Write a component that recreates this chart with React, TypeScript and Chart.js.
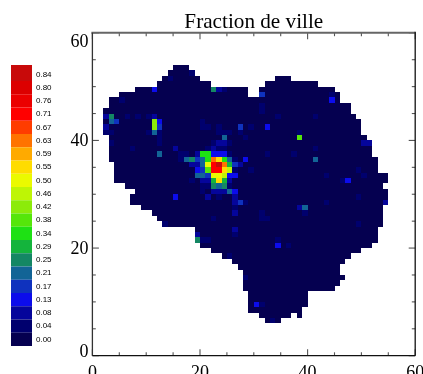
import React, { useEffect, useRef } from "react";
import { Chart, registerables } from "chart.js";

Chart.register(...registerables);

const TITLE = "Fraction de ville";

// Colour bar, bottom to top
const levelLabels = ["0.00","0.04","0.08","0.13","0.17","0.21","0.25","0.29","0.34","0.38","0.42","0.46","0.50","0.55","0.59","0.63","0.67","0.71","0.76","0.80","0.84"];
const levelColors = ["#050050","#00006e","#05059b","#0c0ceb","#0f32be","#126496","#148764","#14b43c","#1ee114","#55e60a","#8ceb0a","#bef505","#ebfa00","#ffdc00","#ffaa00","#ff7300","#ff3c00","#ff0000","#eb0000","#dc0000","#c80a0a"];

// Region outline as row runs: row, first column, end column (exclusive)
const runRow =   [53,52,51,51,50,50,49,49,48,48,47,46,45,44,43,42,41,40,39,38,37,36,35,34,33,32,31,30,29,28,27,26,25,24,23,22,21,20,19,18,17,16,15,14,13,12,11,10,9,8,7,7,6];
const runStart = [15,14,13,34,12,32,8,31,5,31,3,3,2,2,2,2,2,3,3,3,3,3,4,4,4,4,6,8,7,7,9,11,12,13,19,19,19,20,22,24,26,27,28,28,28,28,29,29,29,29,31,38,32];
const runEnd =   [18,19,20,37,22,42,29,45,29,46,46,48,48,49,50,50,50,51,52,52,52,53,53,53,55,55,54,55,55,55,54,54,54,54,53,53,53,52,50,48,47,46,46,47,46,45,40,40,40,39,37,39,35];

// Cells above the base level, one entry per row
const hotRow = [52,51,49,48,47,46,45,44,43,42,41,40,39,38,37,36,35,34,33,32,31,30,29,28,27,26,25,24,23,22,21,20,18,14,9,6];
const hotCols = [
  [18],[14],[11,22,23,24],[31,44],[5,44],[31],[31],
  [2,3,6,8,10,11,34,41],
  [3,4,11,12,20],
  [2,11,12,20,21,23,27,29,32],
  [2,3,10,11,12,23,24,25,27,38],
  [12,24,28,38],
  [3,12,22,23,24,25,50,51],
  [7,15,21,22,23,24,41],
  [12,16,17,19,20,21,22,23,24,25,32,37],
  [16,17,18,19,20,21,22,23,24,25,26,28,41],
  [18,19,20,21,22,23,24,25,26,27],
  [19,20,21,22,23,24,25,26,29,49],
  [19,20,21,22,23,24,25,26,43,50],
  [18,20,21,22,23,24,25,46,47],
  [20,21,22,23,24,25],
  [20,22,23,24,25,26],
  [15,21,23,26,49],
  [26,27,28,43,54],
  [26,38,39],
  [26,31,39],
  [22,31,32],
  [13,49],
  [26],
  [19,26],
  [19,20,21,34],
  [34,36],
  [25],[28],[30,31],[33],
];
const hotValues = [
  [0.04],[0.04],[0.13,0.25,0.08,0.04],[0.17,0.04],[0.04,0.13],[0.04],[0.04],
  [0.08,0.25,0.04,0.04,0.04,0.08,0.04,0.04],
  [0.21,0.17,0.42,0.13,0.04],
  [0.08,0.42,0.17,0.04,0.04,0.04,0.17,0.04,0.13],
  [0.04,0.04,0.04,0.21,0.04,0.04,0.04,0.04,0.04,0.04],
  [0.04,0.21,0.04,0.38],
  [0.04,0.04,0.04,0.08,0.08,0.04,0.08,0.08],
  [0.04,0.08,0.04,0.08,0.04,0.04,0.04],
  [0.21,0.04,0.04,0.08,0.34,0.34,0.13,0.13,0.13,0.04,0.04,0.04],
  [0.04,0.21,0.25,0.17,0.21,0.34,0.63,0.55,0.34,0.21,0.04,0.13,0.21],
  [0.08,0.08,0.21,0.50,0.71,0.84,0.63,0.29,0.17,0.08],
  [0.13,0.17,0.38,0.71,0.71,0.55,0.46,0.04,0.04,0.04],
  [0.21,0.21,0.17,0.50,0.50,0.46,0.13,0.13,0.04,0.04],
  [0.04,0.08,0.08,0.29,0.55,0.29,0.08,0.04,0.13],
  [0.04,0.04,0.25,0.21,0.25,0.04],
  [0.04,0.08,0.08,0.08,0.21,0.13],
  [0.13,0.08,0.04,0.08,0.04],
  [0.08,0.17,0.04,0.04,0.08],
  [0.04,0.08,0.21],
  [0.08,0.04,0.04],
  [0.04,0.04,0.04],
  [0.04,0.04],
  [0.08],
  [0.08,0.04],
  [0.25,0.04,0.04,0.04],
  [0.13,0.04],
  [0.04],[0.04],[0.13,0.04],[0.04],
];

// Axis ticks
const majorTicks = [0, 20, 40, 60];
const minorTicks = [5, 10, 15, 25, 30, 35, 45, 50, 55];

const SERIF = "'Liberation Serif', 'Times New Roman', serif";
const SANS = "'Liberation Sans', Arial, sans-serif";
const CELL_RADIUS = 5.38 * Math.SQRT1_2;

const colorForValue = (v: number) => {
  const i = levelLabels.indexOf(v.toFixed(2));
  return levelColors[i < 0 ? 0 : i];
};

const basePoints: { x: number; y: number }[] = [];
runRow.forEach((row, i) => {
  for (let c = runStart[i]; c < runEnd[i]; c++) basePoints.push({ x: c + 0.5, y: row + 0.5 });
});
const cellPoints: { x: number; y: number }[] = [];
const cellColors: string[] = [];
hotRow.forEach((row, i) => {
  hotCols[i].forEach((c, j) => {
    cellPoints.push({ x: c + 0.5, y: row + 0.5 });
    cellColors.push(colorForValue(hotValues[i][j]));
  });
});

const framePlugin = {
  id: "idlFrame",
  beforeDraw(chart: any) {
    const lg = chart.legend;
    lg.left = 11;
    lg.right = 60;
    lg.top = 67.75;
    lg.bottom = 350;
    lg.width = 49;
    lg.height = 282.25;
    // the top swatch of the colour bar runs a little higher than the others
    const { ctx } = chart;
    ctx.save();
    ctx.fillStyle = levelColors[levelColors.length - 1];
    ctx.fillRect(11, 65, 21, 3);
    ctx.restore();
  },
  beforeDatasetsDraw(chart: any) {
    // snap the cell squares to whole pixels so neighbours leave no seams
    const { ctx } = chart;
    const rect = CanvasRenderingContext2D.prototype.rect;
    ctx.rect = function (x: number, y: number, w: number, h: number) {
      const x0 = Math.round(x);
      const y0 = Math.round(y);
      rect.call(ctx, x0, y0, Math.round(x + w) - x0, Math.round(y + h) - y0);
    };
  },
  afterDatasetsDraw(chart: any) {
    const { ctx, chartArea: a, scales } = chart;
    delete ctx.rect;
    const { x, y } = scales;
    ctx.save();
    const hLine = (x0: number, x1: number, yy: number) => { ctx.beginPath(); ctx.moveTo(x0, yy); ctx.lineTo(x1, yy); ctx.stroke(); };
    const vLine = (xx: number, y0: number, y1: number) => { ctx.beginPath(); ctx.moveTo(xx, y0); ctx.lineTo(xx, y1); ctx.stroke(); };
    ctx.strokeStyle = "#555";
    ctx.lineWidth = 1.1;
    const tick = (v: number, len: number) => {
      const px = x.getPixelForValue(v);
      const py = y.getPixelForValue(v);
      vLine(px, a.bottom, a.bottom - len);
      vLine(px, a.top, a.top + len);
      hLine(a.left, a.left + len, py);
      hLine(a.right, a.right - len, py);
    };
    majorTicks.forEach((v) => tick(v, 6.5));
    minorTicks.forEach((v) => tick(v, 3.4));

    ctx.strokeStyle = "#666";
    ctx.lineWidth = 2;
    hLine(a.left - 1, a.right, a.top);
    ctx.strokeStyle = "#333";
    ctx.lineWidth = 1.3;
    vLine(a.left, a.top, a.bottom);
    ctx.strokeStyle = "#111";
    ctx.lineWidth = 1.3;
    hLine(a.left, a.right, a.bottom);
    vLine(a.right, a.top - 1, a.bottom);

    // left axis labels: the end labels sit inside the axis range
    ctx.fillStyle = "#000";
    ctx.font = `18px ${SERIF}`;
    ctx.textAlign = "right";
    ctx.textBaseline = "alphabetic";
    majorTicks.forEach((v, i) => {
      const py = y.getPixelForValue(v);
      const base = i === 0 ? py + 1 : i === majorTicks.length - 1 ? py + 13.7 : py + 6;
      ctx.fillText(String(v), 88.5, base);
    });
    ctx.restore();
  },
};

export default function App() {
  const ref = useRef<HTMLCanvasElement>(null);
  useEffect(() => {
    document.body.style.margin = "0";
    const chart = new Chart(ref.current as HTMLCanvasElement, {
      type: "scatter",
      data: {
        datasets: [
          {
            label: "base",
            data: basePoints,
            pointStyle: "rect",
            pointRadius: CELL_RADIUS,
            pointBorderWidth: 0,
            backgroundColor: levelColors[0],
            borderWidth: 0,
            order: 2,
          },
          {
            label: "cells",
            data: cellPoints,
            pointStyle: "rect",
            pointRadius: CELL_RADIUS,
            pointBorderWidth: 0,
            backgroundColor: cellColors,
            borderWidth: 0,
            order: 1,
          },
        ],
      },
      options: {
        animation: false,
        responsive: false,
        events: [],
        layout: { padding: { left: 0, right: 7.8, top: 0, bottom: 0 } },
        plugins: {
          tooltip: { enabled: false },
          title: {
            display: true,
            text: TITLE,
            fullSize: false,
            color: "#000",
            font: { family: SERIF, size: 21.2, weight: "normal", lineHeight: 1 },
            padding: { top: 11.4, bottom: 0.2 },
          },
          legend: {
            display: true,
            position: "chartArea",
            align: "start",
            labels: {
              boxWidth: 21,
              boxHeight: 13.25,
              padding: 0,
              color: "#000",
              font: { family: SANS, size: 8 },
              generateLabels: () =>
                levelLabels
                  .map((t, i) => ({ text: t, fillStyle: levelColors[i], strokeStyle: levelColors[i], lineWidth: 0, hidden: false }))
                  .reverse(),
            },
          },
        },
        scales: {
          x: {
            type: "linear",
            min: 0,
            max: 60,
            grid: { display: false, drawTicks: false },
            border: { display: false },
            ticks: {
              stepSize: 20,
              autoSkip: false,
              maxRotation: 0,
              color: "#000",
              padding: 6.4,
              font: { family: SERIF, size: 18 },
            },
            afterFit(s: any) {
              s.height = 18.3;
              s.paddingLeft = 0;
              s.paddingRight = 0;
            },
          },
          y: {
            type: "linear",
            min: 0,
            max: 60,
            grid: { display: false, drawTicks: false },
            border: { display: false },
            ticks: { display: false, stepSize: 20 },
            afterFit(s: any) {
              s.width = 92.4;
              s.paddingTop = 0;
              s.paddingBottom = 0;
            },
          },
        },
      },
      plugins: [framePlugin],
    } as any);
    return () => chart.destroy();
  }, []);
  return <canvas ref={ref} width={423} height={374} style={{ display: "block" }} />;
}
